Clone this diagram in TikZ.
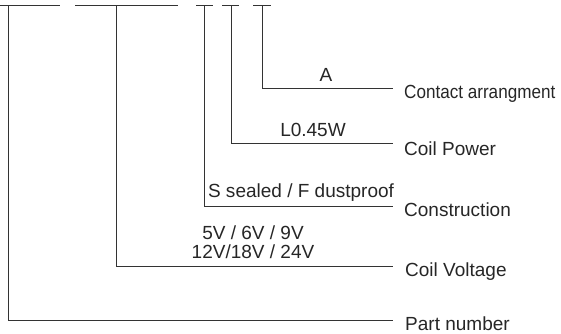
\documentclass[tikz,border=0pt]{standalone}
\usepackage{fontspec}
\setmainfont{Liberation Sans}
\begin{document}
\begin{tikzpicture}[x=1pt,y=-1pt,
  ln/.style={line width=0.9pt,draw=black!80},
  lbl/.style={anchor=base west,inner sep=0pt,text=black!85,font=\fontsize{19}{22}\selectfont},
  val/.style={anchor=base,inner sep=0pt,text=black!85,font=\fontsize{19}{22}\selectfont}]
\useasboundingbox (0,0) rectangle (561,333);
% top bars
\coordinate (b1l) at (0,5);   \coordinate (b1r) at (60,5);
\coordinate (b2l) at (75,5);  \coordinate (b2r) at (178,5);
\coordinate (b3l) at (196,5); \coordinate (b3r) at (213,5);
\coordinate (b4l) at (222,5); \coordinate (b4r) at (239,5);
\coordinate (b5l) at (253,5); \coordinate (b5r) at (271,5);
\coordinate (t1) at (8,5);
\coordinate (t2) at (116,5);
\coordinate (t3) at (204,5);
\coordinate (t4) at (231,5);
\coordinate (t5) at (262,5);
\draw[ln] (b1l) -- (b1r);
\draw[ln] (b2l) -- (b2r);
\draw[ln] (b3l) -- (b3r);
\draw[ln] (b4l) -- (b4r);
\draw[ln] (b5l) -- (b5r);
% line ends
\coordinate (e5) at (393,88);
\coordinate (e4) at (393,143);
\coordinate (e3) at (393,206);
\coordinate (e2) at (393,266);
\coordinate (e1) at (393,320);
\draw[ln] (t5) |- (e5);
\draw[ln] (t4) |- (e4);
\draw[ln] (t3) |- (e3);
\draw[ln] (t2) |- (e2);
\draw[ln] (t1) |- (e1);
% labels
\node[lbl,xscale=0.9] (l5) at (404,98) {Contact arrangment};
\node[lbl] (l4) at (404,155) {Coil Power};
\node[lbl] (l3) at (404,216) {Construction};
\node[lbl] (l2) at (405,276) {Coil Voltage};
\node[lbl] (l1) at (405,330) {Part number};
% values
\node[val] (v5) at (326,81) {A};
\node[val] (v4) at (313,136) {L0.45W};
\node[val] (v3) at (301,197) {S sealed / F dustproof};
\node[val] (v2a) at (253,239) {5V / 6V / 9V};
\node[val] (v2b) at (253,258) {12V/18V / 24V};
\end{tikzpicture}
\end{document}
